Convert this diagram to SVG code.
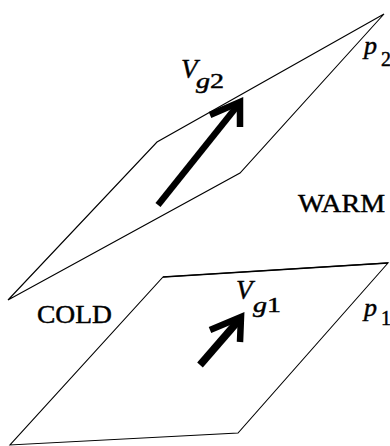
<svg xmlns="http://www.w3.org/2000/svg" width="390" height="446" viewBox="0 0 390 446">
<style>
.plane{fill:none;stroke:#000;stroke-width:1.1;stroke-linejoin:miter}
.arrow{fill:none;stroke:#000;stroke-width:6.5;stroke-linecap:butt;stroke-linejoin:miter}
.lab{font-family:"Liberation Serif",serif;fill:#000;stroke:#000;stroke-width:0.45}
.it{font-style:italic}
</style>
<rect width="390" height="446" fill="#fff"/>
<g id="upper-plane">
<polygon class="plane" points="384,14 157,142 8,300 240,173"/>
</g>
<g id="lower-plane">
<polygon class="plane" points="163,277 388,263 238,433 10,445"/>
<line x1="163" y1="277" x2="388" y2="263" stroke="#000" stroke-width="1.7"/>
</g>
<g id="upper-arrow">
<line class="arrow" x1="158" y1="205" x2="238" y2="105"/>
<polyline class="arrow" points="210,115 240,102 240,127"/>
</g>
<g id="lower-arrow">
<line class="arrow" x1="200" y1="365" x2="239" y2="320" style="stroke-width:7.5"/>
<polyline class="arrow" points="210,330 241,317 240,342"/>
</g>
<g id="labels">
<text class="lab it" x="181" y="78" font-size="27">V</text>
<text class="lab" x="196" y="88" font-size="21" textLength="28" lengthAdjust="spacingAndGlyphs"><tspan class="it">g</tspan>2</text>
<text class="lab it" x="364" y="54" font-size="26">p</text>
<text class="lab" x="381" y="66" font-size="20">2</text>
<text class="lab" x="298" y="212" font-size="25" textLength="87" lengthAdjust="spacingAndGlyphs">WARM</text>
<text class="lab" x="37" y="323" font-size="25" textLength="75" lengthAdjust="spacingAndGlyphs">COLD</text>
<text class="lab it" x="236" y="299" font-size="27">V</text>
<text class="lab" x="253" y="312" font-size="22" textLength="28" lengthAdjust="spacingAndGlyphs"><tspan class="it">g</tspan>1</text>
<text class="lab it" x="364" y="316" font-size="26">p</text>
<text class="lab" x="381" y="325" font-size="20">1</text>
</g>
</svg>
